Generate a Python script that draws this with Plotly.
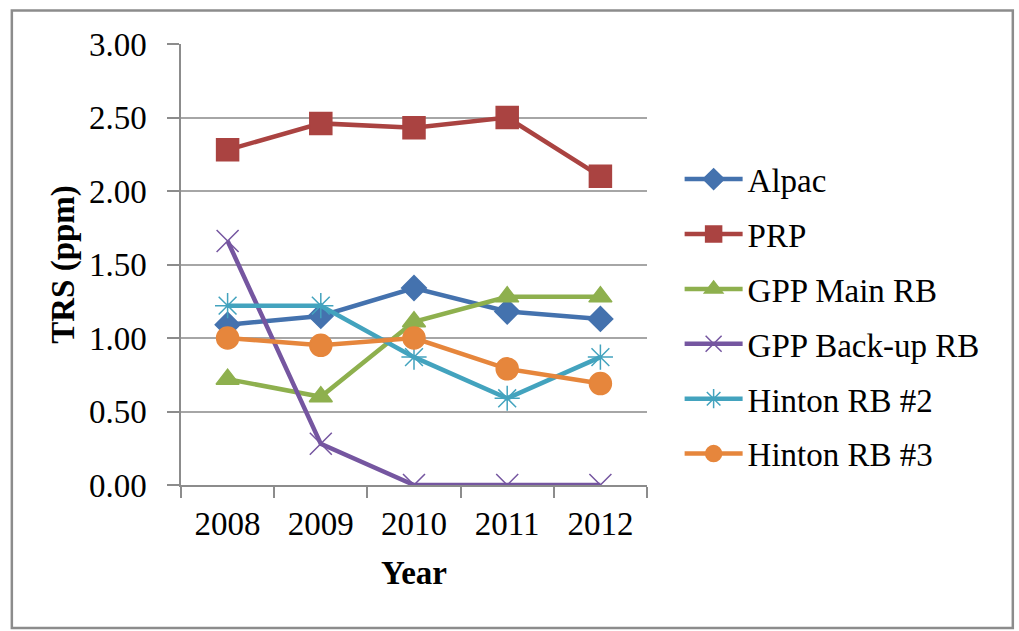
import plotly.graph_objects as go

years = ["2008", "2009", "2010", "2011", "2012"]
alpac = [1.09, 1.15, 1.34, 1.18, 1.13]
prp = [2.28, 2.46, 2.43, 2.50, 2.10]
gpp_main = [0.72, 0.60, 1.11, 1.28, 1.28]
gpp_backup = [1.66, 0.28, 0.00, 0.00, 0.00]
hinton2 = [1.22, 1.22, 0.87, 0.59, 0.87]
hinton3 = [1.00, 0.95, 1.00, 0.79, 0.69]

series = [
    ("Alpac", alpac, "#4472AE", "diamond", 19),
    ("PRP", prp, "#AA4341", "square", 22),
    ("GPP Main RB", gpp_main, "#8EB04E", "triangle-up", 20),
    ("GPP Back-up RB", gpp_backup, "#7556A0", "x-thin-open", 22),
    ("Hinton RB #2", hinton2, "#43A3BE", "asterisk-open", 21),
    ("Hinton RB #3", hinton3, "#E6863C", "circle", 22),
]

FONT = "Liberation Serif"
FS = 33

fig = go.Figure()
for i, (name, vals, color, symbol, size) in enumerate(series):
    fig.add_trace(go.Scatter(
        x=years, y=vals, name=name, mode="lines+markers",
        legendgroup=f"g{i}",
        line=dict(color=color, width=4.5),
        marker=dict(symbol=symbol, size=size, color=color,
                    line=dict(color=color, width=1.5)),
    ))

fig.update_layout(
    template="none",
    width=1019, height=631,
    margin=dict(l=181, r=372, t=43.5, b=146),
    paper_bgcolor="white", plot_bgcolor="white",
    font=dict(family=FONT, size=FS, color="black"),
    showlegend=True,
    legend=dict(
        x=1.07, y=0.757, xanchor="left", yanchor="top",
        font=dict(family=FONT, size=FS, color="black"),
        traceorder="grouped", tracegroupgap=9,
        itemwidth=58, bgcolor="rgba(0,0,0,0)",
    ),
    xaxis=dict(
        type="category", range=[-0.5, 4.5],
        tickson="boundaries", ticks="outside", ticklen=11, tickwidth=1.5,
        tickcolor="#8C8C8C", showline=True, linecolor="#8C8C8C", linewidth=1.5,
        showgrid=False, ticklabelstandoff=9,
        tickfont=dict(family=FONT, size=FS, color="black"),
        title=dict(text="<b>Year</b>", font=dict(family=FONT, size=FS, color="black"),
                   standoff=20),
    ),
    yaxis=dict(
        range=[0, 3], dtick=0.5, tickformat=".2f",
        ticks="outside", ticklen=12, tickwidth=1.5, tickcolor="#8C8C8C",
        showline=True, linecolor="#8C8C8C", linewidth=1.5,
        showgrid=True, gridcolor="#A6A6A6", gridwidth=1.5,
        zeroline=False, ticklabelstandoff=14,
        tickfont=dict(family=FONT, size=FS, color="black"),
        title=dict(text="<b>TRS (ppm)</b>", font=dict(family=FONT, size=FS, color="black"),
                   standoff=4),
    ),
    shapes=[dict(
        type="rect", xref="paper", yref="paper",
        x0=-0.363, x1=1.785, y0=-0.324, y1=1.076,
        line=dict(color="#8C8C8C", width=2.5), fillcolor="rgba(0,0,0,0)",
        layer="below",
    )],
)

fig.write_html("out.html")
